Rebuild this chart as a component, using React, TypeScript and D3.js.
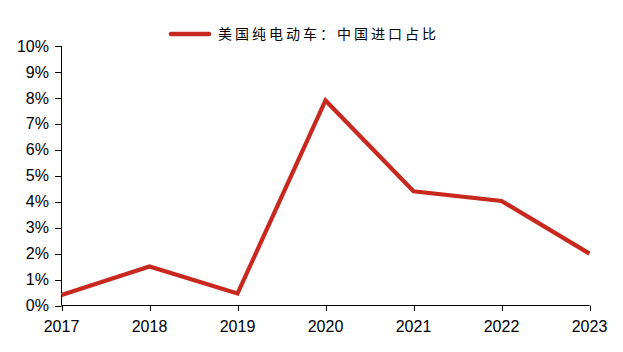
import React from "react";
import * as d3 from "d3";

const years = ["2017", "2018", "2019", "2020", "2021", "2022", "2023"];
const shareValues = [0.4, 1.5, 0.46, 7.9, 4.4, 4.03, 2.0];
const yTicks = [0, 1, 2, 3, 4, 5, 6, 7, 8, 9, 10];
const seriesName = "美国纯电动车：中国进口占比";

export default function App() {
  const W = 623, H = 352;
  const x = d3.scalePoint<string>().domain(years).range([61.5, 589.5]);
  const y = d3.scaleLinear().domain([0, 10]).range([305.5, 46]);
  const line = d3
    .line<number>()
    .x((_, i) => x(years[i]) as number)
    .y((d) => y(d));
  const font = "Liberation Sans, Arial, sans-serif";
  return (
    <svg
      width={W}
      height={H}
      style={{ position: "absolute", left: 0, top: 0, background: "#fff" }}
    >
      {/* y axis */}
      <line x1={61.5} x2={61.5} y1={y(10)} y2={y(0)} stroke="#000" strokeWidth={1} />
      {yTicks.map((t) => (
        <g key={t}>
          <line x1={55} x2={61.5} y1={Math.round(y(t)) + 0.5} y2={Math.round(y(t)) + 0.5} stroke="#000" />
          <text
            x={49}
            y={y(t)}
            dy="0.35em"
            textAnchor="end"
            fontFamily={font}
            fontSize={16}
            fill="#000"
          >
            {t}%
          </text>
        </g>
      ))}
      {/* x axis */}
      <line x1={61.5} x2={589.5} y1={305.5} y2={305.5} stroke="#000" />
      {years.map((yr) => (
        <g key={yr}>
          <line
            x1={Math.round(x(yr) as number) + 0.5}
            x2={Math.round(x(yr) as number) + 0.5}
            y1={305.5}
            y2={311}
            stroke="#000"
          />
          <text
            x={x(yr) as number}
            y={332}
            textAnchor="middle"
            fontFamily={font}
            fontSize={16}
            fill="#000"
          >
            {yr}
          </text>
        </g>
      ))}
      {/* series */}
      <path
        d={line(shareValues) || ""}
        fill="none"
        stroke="#C9281E"
        strokeWidth={4.2}
        strokeLinejoin="miter"
      />
      {/* legend */}
      <line x1={171} x2={209} y1={34} y2={34} stroke="#C9281E" strokeWidth={4.5} strokeLinecap="round" />
      <text
        x={218}
        y={34}
        dy="0.35em"
        fontFamily="Noto Sans CJK SC, sans-serif"
        fontSize={14}
        letterSpacing={3}
        fill="#000"
      >
        {seriesName}
      </text>
    </svg>
  );
}
